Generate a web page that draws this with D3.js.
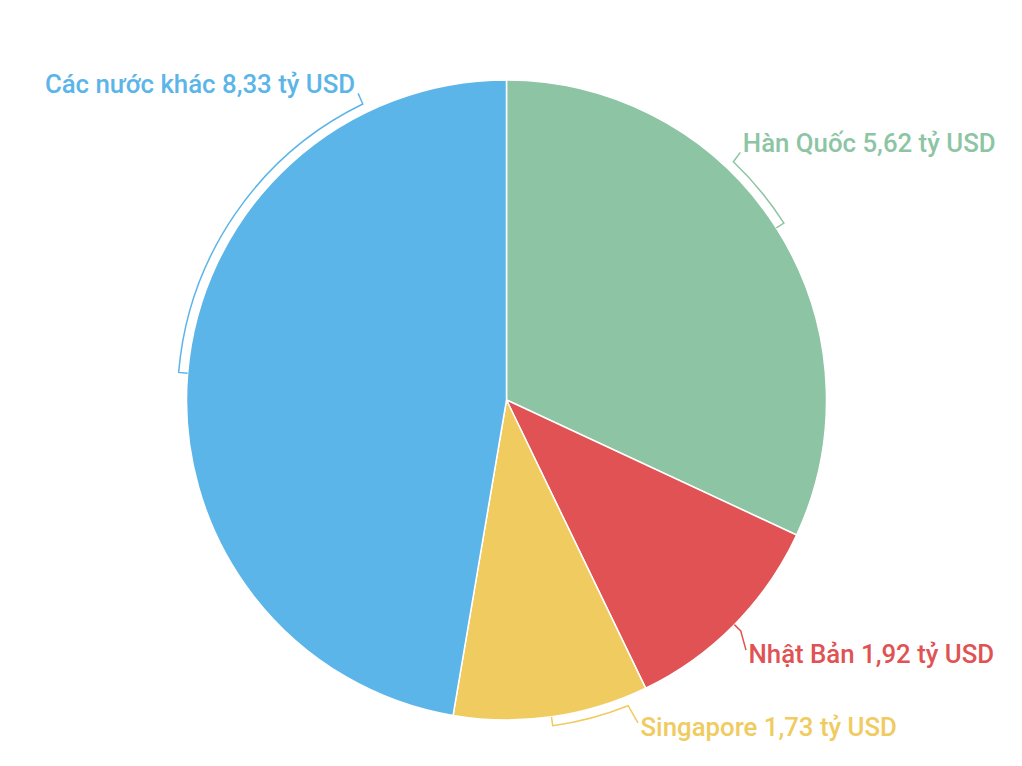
<!DOCTYPE html>
<html>
<head>
<meta charset="utf-8">
<script src="https://cdn.jsdelivr.net/npm/d3@7"></script>
<style>
  body { margin: 0; background: #fff; }
  svg { display: block; font-family: Roboto, "Noto Sans", sans-serif; }
</style>
</head>
<body>
<div id="chart"></div>
<script>
"use strict"

// data
var names = ['Hàn Quốc', 'Nhật Bản', 'Singapore', 'Các nước khác'];
var values = [5.62, 1.92, 1.73, 8.33];
var valueLabels = ['5,62', '1,92', '1,73', '8,33'];
var colors = ['#8dc5a4', '#e05254', '#f0cb5f', '#5cb5e8'];
// angle (degrees, clockwise from top) where each label line leaves the bracket
var labelAngles = [43.6, 134.6, 158.3, 334.1];

var width = 1022, height = 766;
var cx = 506.5, cy = 400, radius = 320;
var rb = 329;          // radius of the bracket arc
var ext = 13;          // label line length past the bracket
// small hand tweaks of the label line ends
var nudge = [[-2, 0], [-4, 10], [5, 5], [1, 1]];

var svg = d3.select("#chart")
    .append("svg")
    .attr("width", width)
    .attr("height", height);

var pieData = d3.pie()
    .sort(null)
    .value(function(d) { return d; })
    (values);

var arc = d3.arc()
    .innerRadius(0)
    .outerRadius(radius);

var g = svg.append("g")
    .attr("transform", "translate(" + cx + "," + cy + ")");

g.selectAll("path.slice")
    .data(pieData)
    .enter()
    .append("path")
    .attr("class", "slice")
    .attr("d", arc)
    .attr("fill", function(d, i) { return colors[i]; })
    .attr("stroke", "#fff")
    .attr("stroke-width", 1.5);

function polar(a, r) {
    return [r * Math.sin(a), -r * Math.cos(a)];
}

// label lines: tick at mid angle, arc along the slice, then out to the label
var labels = pieData.map(function(d, i) {
    var mid = (d.startAngle + d.endAngle) / 2;
    var la = labelAngles[i] * Math.PI / 180;
    var p0 = polar(mid, radius);
    var p1 = polar(mid, rb);
    var p2 = polar(la, rb);
    var e = polar(la, rb + ext);
    e = [e[0] + nudge[i][0], e[1] + nudge[i][1]];
    var sweep = la > mid ? 1 : 0;
    var path = "M" + p0 + "L" + p1 +
        "A" + rb + "," + rb + " 0 0 " + sweep + " " + p2 +
        "L" + e;
    var right = Math.sin(la) >= 0;
    var lower = e[1] > 0;
    return {
        path: path,
        color: colors[i],
        text: names[i] + " " + valueLabels[i] + " tỷ USD",
        x: e[0] + (right ? 2.5 : -3),
        y: e[1] + (lower ? 13 : 0),
        anchor: right ? "start" : "end"
    };
});

g.selectAll("path.line")
    .data(labels)
    .enter()
    .append("path")
    .attr("class", "line")
    .attr("d", function(d) { return d.path; })
    .attr("fill", "none")
    .attr("stroke", function(d) { return d.color; })
    .attr("stroke-width", 1.5);

g.selectAll("text")
    .data(labels)
    .enter()
    .append("text")
    .attr("x", function(d) { return d.x; })
    .attr("y", function(d) { return d.y; })
    .attr("text-anchor", function(d) { return d.anchor; })
    .attr("fill", function(d) { return d.color; })
    .style("font-size", "25.8px")
    .style("font-weight", 500)
    .text(function(d) { return d.text; });
</script>
</body>
</html>
